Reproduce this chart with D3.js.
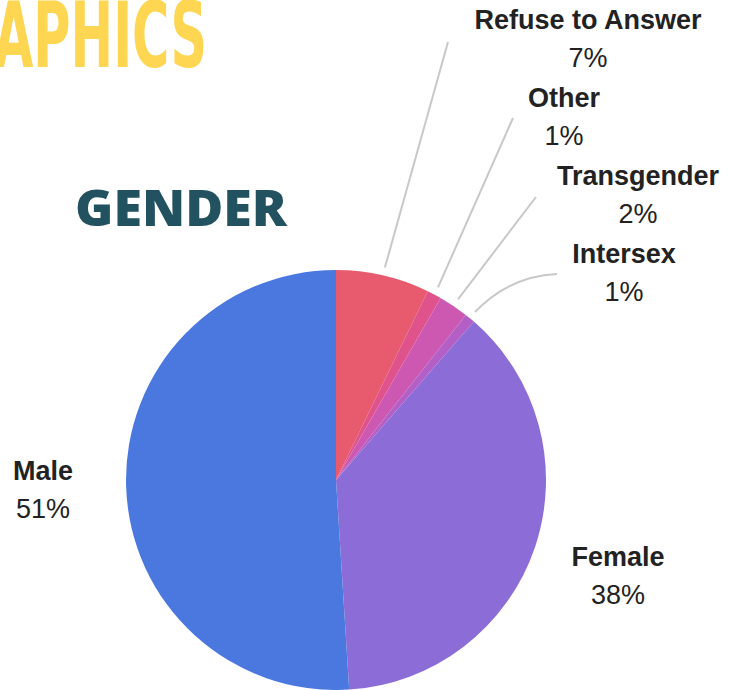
<!DOCTYPE html>
<html>
<head>
<meta charset="utf-8">
<script src="https://cdn.jsdelivr.net/npm/d3@7"></script>
<style>
  html, body { margin: 0; padding: 0; background: #ffffff; }
  svg { display: block; }
</style>
</head>
<body>
<div id="chart"></div>
<script>
//slice data, clockwise from 12 o'clock
const categories = ['Refuse to Answer', 'Other', 'Transgender', 'Intersex', 'Female', 'Male'];
const values = [7.2, 1.1, 2.3, 0.8, 37.6, 51.0];
const labels = ['7%', '1%', '2%', '1%', '38%', '51%'];
const colors = ['#e85a6e', '#e0528b', '#cd58b1', '#b35fc6', '#8c6cd6', '#4b78de'];

//label anchors (layout only)
const labelPos = [
    { x: 588, y: 29, lx: 448, ly: 42 },
    { x: 564, y: 107, lx: 513, ly: 118 },
    { x: 638, y: 185, lx: 536, ly: 197 },
    { x: 624, y: 263, lx: 557, ly: 274, curve: true },
    { x: 618, y: 566 },
    { x: 43, y: 480 }
];

const width = 738, height = 690;
const cx = 336, cy = 480, radius = 210;

const svg = d3.select('#chart').append('svg')
    .attr('width', width)
    .attr('height', height);

//cropped page heading
svg.append('text')
    .attr('x', -6)
    .attr('y', 67)
    .attr('textLength', 213)
    .attr('lengthAdjust', 'spacingAndGlyphs')
    .style('font-family', '"DejaVu Sans Condensed", "DejaVu Sans", sans-serif')
    .style('font-weight', 'bold')
    .style('font-size', '90px')
    .style('fill', '#fed651')
    .text('APHICS');

svg.append('text')
    .attr('x', 75)
    .attr('y', 226)
    .attr('textLength', 212)
    .attr('lengthAdjust', 'spacingAndGlyphs')
    .style('font-family', '"Open Sans", sans-serif')
    .style('font-weight', 800)
    .style('font-size', '50px')
    .style('fill', '#22515f')
    .text('GENDER');

const pie = d3.pie().sort(null).value(d => d);
const arcs = pie(values);

const arc = d3.arc().innerRadius(0).outerRadius(radius);
const lineArc = d3.arc().innerRadius(218).outerRadius(218);

const g = svg.append('g').attr('transform', `translate(${cx},${cy})`);

g.selectAll('path.slice')
    .data(arcs)
    .enter().append('path')
    .attr('class', 'slice')
    .attr('d', arc)
    .style('fill', (d, i) => colors[i]);

//leader lines for small slices
arcs.forEach(function(d, i) {
    const p = labelPos[i];
    if (p.lx === undefined) return;
    const s = lineArc.centroid(d);
    const sx = s[0] + cx, sy = s[1] + cy;
    let path;
    if (p.curve) {
        path = `M${sx},${sy} Q${sx + 35},${p.ly + 2} ${p.lx},${p.ly}`;
    } else {
        path = `M${sx},${sy} L${p.lx},${p.ly}`;
    }
    svg.append('path')
        .attr('d', path)
        .style('fill', 'none')
        .style('stroke', '#c8c8c8')
        .style('stroke-width', 2);
});

//category labels and percentages
const lab = svg.selectAll('g.label')
    .data(categories)
    .enter().append('g')
    .attr('class', 'label');

lab.append('text')
    .attr('x', (d, i) => labelPos[i].x)
    .attr('y', (d, i) => labelPos[i].y)
    .attr('text-anchor', 'middle')
    .style('font-family', '"Liberation Sans", Arial, sans-serif')
    .style('font-weight', 'bold')
    .style('font-size', '27px')
    .style('fill', '#222222')
    .text(d => d);

lab.append('text')
    .attr('x', (d, i) => labelPos[i].x)
    .attr('y', (d, i) => labelPos[i].y + 38)
    .attr('text-anchor', 'middle')
    .style('font-family', '"Liberation Sans", Arial, sans-serif')
    .style('font-size', '27px')
    .style('fill', '#222222')
    .text((d, i) => labels[i]);
</script>
</body>
</html>
